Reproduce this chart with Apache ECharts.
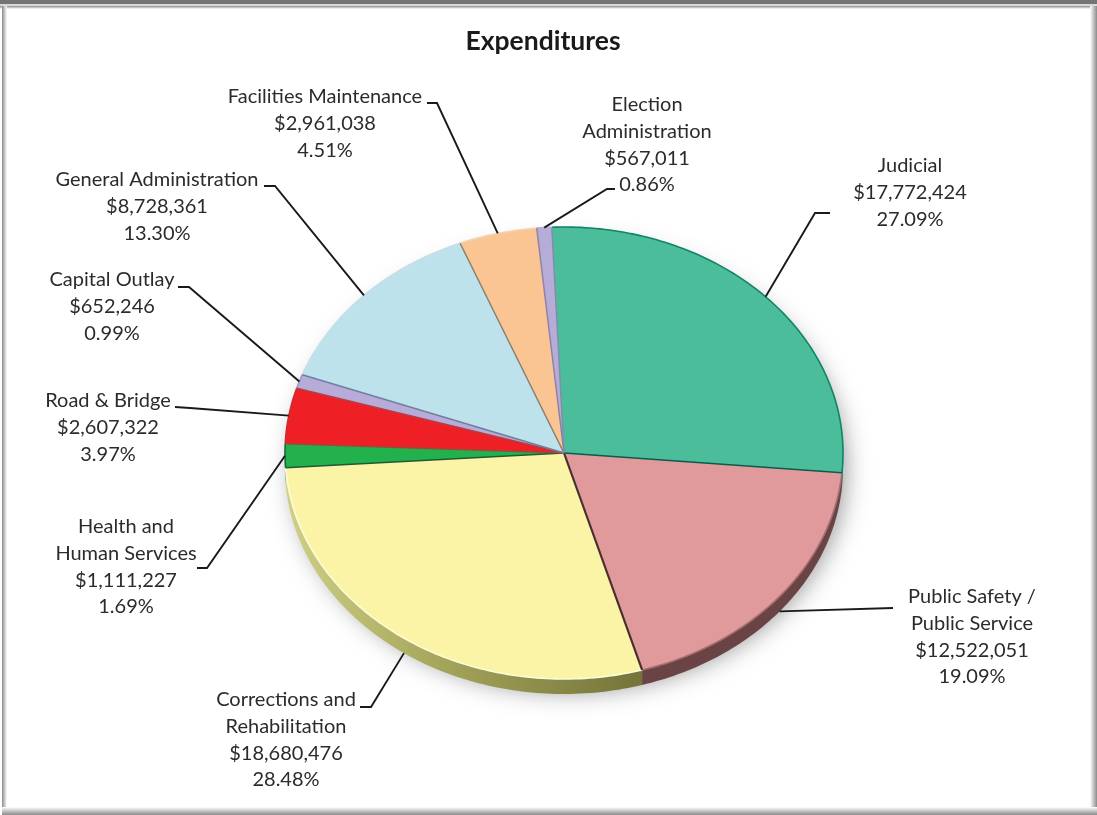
<!DOCTYPE html>
<html><head><meta charset="utf-8">
<script src="https://cdn.jsdelivr.net/npm/echarts@6/dist/echarts.min.js"></script>
<style>html,body{margin:0;padding:0;background:#fff}#c{width:1097px;height:815px}</style>
</head><body><div id="c"></div>
<script>
const categories = ['Judicial','Public Safety /\nPublic Service','Corrections and\nRehabilitation','Health and\nHuman Services','Road & Bridge','Capital Outlay','General Administration','Facilities Maintenance','Election\nAdministration'];
const amounts = [17772424,12522051,18680476,1111227,2607322,652246,8728361,2961038,567011];
const percents = ['27.09%','19.09%','28.48%','1.69%','3.97%','0.99%','13.30%','4.51%','0.86%'];
const fills = ['#4BBD9B','#E09A9B','#FBF3A6','#22B14C','#EE2025','#B7ACD8','#BDE2EC','#FBC593','#B7ACD8'];
const arcEdges = ['#0F8468','#A86E70','#FDFCD8','#14683A','#D02A2E','#9C97C4','#C6DEE8','#F3D2B0','#B7ACD8'];
const dividers = ['#7F8FA8','#0B5A4A','#4A2F2F','#1E5A35','#9A4A38','#B0404A','#6F7FA0','#8A7F70','#8C84A8'];
const rims = ['#0B7A60','#6A4444',null,'#14683A','#A01518','#7C7FA8','#8FA9C0','#C09060','#8C84B0'];
// label block centres [x, first line centre y] and elbow of each leader
const labelAt = [[910,166],[972,597],[286,700],[126,527],[108,401],[112,280],[157,180],[325,97],[647,105]];
const leaderFrom = [[830,213],[893,608],[360,707],[197,568],[175,407],[178,287],[264,186],[427,103],[615,189]];
const leaderKnee = [[815,213],[893,608],[371,707],[207,568],[190,408],[189,287],[275,186],[437,103],[607,189]];

const CX=564, CY=453, RX=279, RY=226, DEPTH=15, START=-2.5, LH=26.6;
const FONT='Lato, "Open Sans", sans-serif';
const total = amounts.reduce((a,b)=>a+b,0);
const pt = (t,dy=0)=>{const r=t*Math.PI/180;return [CX+RX*Math.sin(r),CY-RY*Math.cos(r)+dy];};
const startOf = i=>START+amounts.slice(0,i).reduce((a,b)=>a+b,0)/total*360;
const arc=(a,b,dy=0)=>{const p=[];const n=Math.max(2,Math.ceil(b-a));for(let k=0;k<=n;k++)p.push(pt(a+(b-a)*k/n,dy));return p;};
const vgrad=(x,y,w,h,from,to,horizontal)=>({type:'rect',z:0,shape:{x,y,width:w,height:h},style:{fill:new echarts.graphic.LinearGradient(0,0,horizontal?1:0,horizontal?0:1,[{offset:0,color:from},{offset:1,color:to}])}});

function renderRim(params,api){
  const i=params.dataIndex, a=startOf(i), b=a+api.value(1)/total*360;
  const lo=Math.max(a,90), hi=Math.min(b,270);
  if(hi<=lo) return {type:'group',children:[]};
  const top=arc(lo,hi), bot=arc(lo,hi,DEPTH).reverse();
  const fill=rims[i]||new echarts.graphic.LinearGradient(0,0,1,0,[{offset:0,color:'#CFCF85'},{offset:0.45,color:'#A3A35A'},{offset:1,color:'#74743A'}]);
  return {type:'polygon',shape:{points:top.concat(bot)},style:{fill}};
}
function renderTop(params,api){
  const i=params.dataIndex, a=startOf(i), b=a+api.value(1)/total*360;
  return {type:'polygon',shape:{points:[[CX,CY]].concat(arc(a,b))},style:{fill:fills[i]}};
}
function renderEdges(params,api){
  const i=params.dataIndex, a=startOf(i), b=a+api.value(1)/total*360;
  return {type:'group',children:[
    {type:'polyline',shape:{points:arc(a,b)},style:{fill:null,stroke:arcEdges[i],lineWidth:1.6}},
    {type:'line',shape:{x1:CX,y1:CY,x2:pt(a)[0],y2:pt(a)[1]},style:{stroke:dividers[i],lineWidth:i===2?2.2:1.5}}
  ]};
}
function renderLabel(params,api){
  const i=params.dataIndex, a=startOf(i), v=api.value(1), m=a+v/total*360/2;
  const norm=((m%360)+360)%360;
  const end=(norm>90&&norm<250)?pt(m,DEPTH):pt(m);
  const lines=categories[i].split('\n').concat(['$'+v.toLocaleString('en-US'),percents[i]]);
  const kids=[{type:'polyline',shape:{points:[leaderFrom[i],leaderKnee[i],end]},style:{fill:null,stroke:'#1a1a1a',lineWidth:1.9}}];
  lines.forEach((t,k)=>kids.push({type:'text',style:{text:t,x:labelAt[i][0],y:labelAt[i][1]+k*LH,align:'center',verticalAlign:'middle',fill:'#2b2b2b',font:'20px '+FONT}}));
  return {type:'group',children:kids};
}
const data=amounts.map((v,i)=>({name:categories[i],value:[i,v]}));
const chart=echarts.init(document.getElementById('c'),null,{renderer:'canvas'});
chart.setOption({
  animation:false,
  backgroundColor:'#fff',
  title:{text:'Expenditures',left:538,top:23,textAlign:'center',textStyle:{fontFamily:FONT,fontWeight:'bold',fontSize:26.5,color:'#1a1a1a'}},
  xAxis:{show:false},yAxis:{show:false},
  graphic:[
    {type:'rect',z:0,shape:{x:0,y:0,width:1097,height:4},style:{fill:'#747474'}},
    {type:'rect',z:0,shape:{x:0,y:4,width:1097,height:2},style:{fill:'#d8d8d8'}},
    vgrad(0,6,1097,3,'#8a8a8a','#ffffff',false),
    vgrad(2,6,5,804,'#8a8a8a','#ffffff',true),
    vgrad(1090,6,7,809,'#ffffff','#8a8a8a',true),
    vgrad(2,807,1095,8,'#ffffff','#8a8a8a',false),
    {type:'ellipse',z:1,shape:{cx:CX+3,cy:CY+DEPTH-3,rx:RX-3,ry:RY-3},style:{fill:'#bbb',shadowColor:'rgba(0,0,0,0.42)',shadowBlur:24,shadowOffsetX:2,shadowOffsetY:3}}
  ],
  series:[
    {type:'custom',coordinateSystem:'none',z:3,silent:true,data,renderItem:renderRim},
    {type:'custom',coordinateSystem:'none',z:4,silent:true,data,renderItem:renderTop},
    {type:'custom',coordinateSystem:'none',z:5,silent:true,data,renderItem:renderEdges},
    {type:'custom',coordinateSystem:'none',z:6,silent:true,data,renderItem:renderLabel}
  ]
});
</script></body></html>
